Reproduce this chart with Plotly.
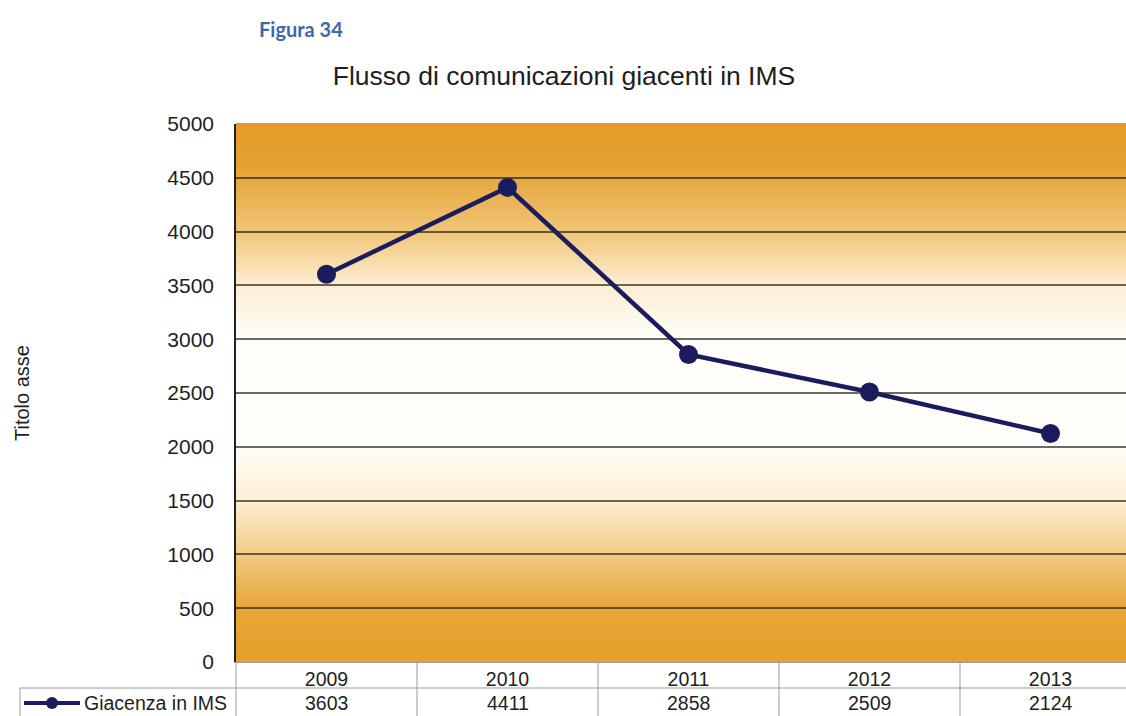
import plotly.graph_objects as go

# Data
years = ["2009", "2010", "2011", "2012", "2013"]
giacenza = [3603, 4411, 2858, 2509, 2124]
series_name = "Giacenza in IMS"
y_ticks = [0, 500, 1000, 1500, 2000, 2500, 3000, 3500, 4000, 4500, 5000]

W, H = 1126, 716
ML, MR, MT, MB = 236, 0, 124, 54
plot_w = W - ML - MR
plot_h = H - MT - MB

NAVY = "#1b1c5e"
TXT = "#1e1e1e"
FONT = "Liberation Sans, Arial, sans-serif"

x_idx = list(range(len(years)))

fig = go.Figure()
fig.add_trace(go.Scatter(
    x=x_idx, y=giacenza, mode="lines+markers", name=series_name,
    line=dict(color=NAVY, width=4.5),
    marker=dict(color=NAVY, size=19),
    showlegend=False, cliponaxis=False,
))

# Vertical background gradient (orange -> white -> orange), built from thin bands
stops = [
    (0.00, (226, 156, 42)),
    (0.08, (228, 161, 50)),
    (0.20, (240, 196, 118)),
    (0.30, (252, 237, 208)),
    (0.40, (255, 254, 251)),
    (0.60, (255, 254, 251)),
    (0.70, (252, 239, 212)),
    (0.80, (242, 203, 132)),
    (0.90, (231, 166, 56)),
    (1.00, (228, 160, 42)),
]


def grad_color(t):
    for (t0, c0), (t1, c1) in zip(stops[:-1], stops[1:]):
        if t0 <= t <= t1:
            f = (t - t0) / (t1 - t0) if t1 > t0 else 0
            return "rgb(%d,%d,%d)" % tuple(round(a + (b - a) * f) for a, b in zip(c0, c1))
    return "rgb(%d,%d,%d)" % stops[-1][1]


shapes = []
n_bands = 135
for i in range(n_bands):
    t = (i + 0.5) / n_bands
    top = 1 - i / n_bands
    bot = 1 - (i + 1) / n_bands
    shapes.append(dict(type="rect", xref="paper", yref="paper", x0=0, x1=1,
                       y0=bot - 0.002, y1=top + 0.002, fillcolor=grad_color(t),
                       line=dict(width=0), layer="below"))

# Data table grid below the plot
GRID = "#9a9a9a"
row_mid = -26 / plot_h
tbl_bot = -MB / plot_h
left_cell = (20 - ML) / plot_w
for b in [i + 0.5 for i in x_idx[:-1]]:
    shapes.append(dict(type="line", xref="x", yref="paper", x0=b, x1=b,
                       y0=tbl_bot, y1=0, line=dict(color=GRID, width=1)))
shapes.append(dict(type="line", xref="paper", yref="paper", x0=0, x1=0,
                   y0=tbl_bot, y1=0, line=dict(color=GRID, width=1)))
shapes.append(dict(type="line", xref="paper", yref="paper", x0=left_cell, x1=1,
                   y0=row_mid, y1=row_mid, line=dict(color=GRID, width=1)))
shapes.append(dict(type="line", xref="paper", yref="paper", x0=left_cell, x1=left_cell,
                   y0=tbl_bot, y1=row_mid, line=dict(color=GRID, width=1)))

# Legend key inside the table
key_y = -41 / plot_h
shapes.append(dict(type="line", xref="paper", yref="paper",
                   x0=(24 - ML) / plot_w, x1=(80 - ML) / plot_w, y0=key_y, y1=key_y,
                   line=dict(color=NAVY, width=4)))
shapes.append(dict(type="circle", xref="paper", yref="paper",
                   x0=(46 - ML) / plot_w, x1=(58 - ML) / plot_w,
                   y0=key_y - 6 / plot_h, y1=key_y + 6 / plot_h,
                   fillcolor=NAVY, line=dict(color=NAVY, width=0)))

annotations = [
    dict(text="Figura 34", xref="paper", yref="paper", x=(257 - ML) / plot_w,
         y=1 + (MT - 29) / plot_h, xanchor="left", yanchor="middle", showarrow=False,
         font=dict(family="Lato, Open Sans, sans-serif", size=20, color="#3d68ad",
                   weight="bold")),
    dict(text="Titolo asse", xref="paper", yref="paper", x=(22 - ML) / plot_w, y=0.5,
         xanchor="center", yanchor="middle", textangle=-90, showarrow=False,
         font=dict(family=FONT, size=20, color=TXT)),
    dict(text=series_name, xref="paper", yref="paper", x=(82 - ML) / plot_w, y=key_y,
         xanchor="left", yanchor="middle", showarrow=False,
         font=dict(family=FONT, size=19.5, color=TXT)),
]
for xi, v in zip(x_idx, giacenza):
    annotations.append(dict(text=str(v), xref="x", yref="paper", x=xi, y=key_y,
                            xanchor="center", yanchor="middle", showarrow=False,
                            font=dict(family=FONT, size=19.5, color=TXT)))

fig.update_layout(
    width=W, height=H,
    margin=dict(l=ML, r=MR, t=MT, b=MB, pad=0),
    paper_bgcolor="white", plot_bgcolor="white",
    title=dict(text="Flusso di comunicazioni giacenti in IMS", x=564 / W, xref="container",
               xanchor="center", y=1 - 76 / H, yanchor="middle",
               font=dict(family=FONT, size=26.5, color=TXT)),
    shapes=shapes, annotations=annotations,
    xaxis=dict(range=[-0.5, -0.5 + plot_w / 181.0], tickvals=x_idx, ticktext=years,
               showgrid=False, zeroline=False, showline=True, linecolor=GRID, linewidth=1,
               ticks="", tickfont=dict(family=FONT, size=19.5, color=TXT), fixedrange=True),
    yaxis=dict(range=[0, 5000], tickvals=y_ticks, showgrid=True,
               gridcolor="rgba(30,25,20,0.65)", gridwidth=1.6, zeroline=False,
               showline=True, linecolor="#222", linewidth=1.5, ticks="",
               ticklabelstandoff=16,
               tickfont=dict(family=FONT, size=21, color=TXT), fixedrange=True),
    showlegend=False,
)

fig.write_html("out.html")
